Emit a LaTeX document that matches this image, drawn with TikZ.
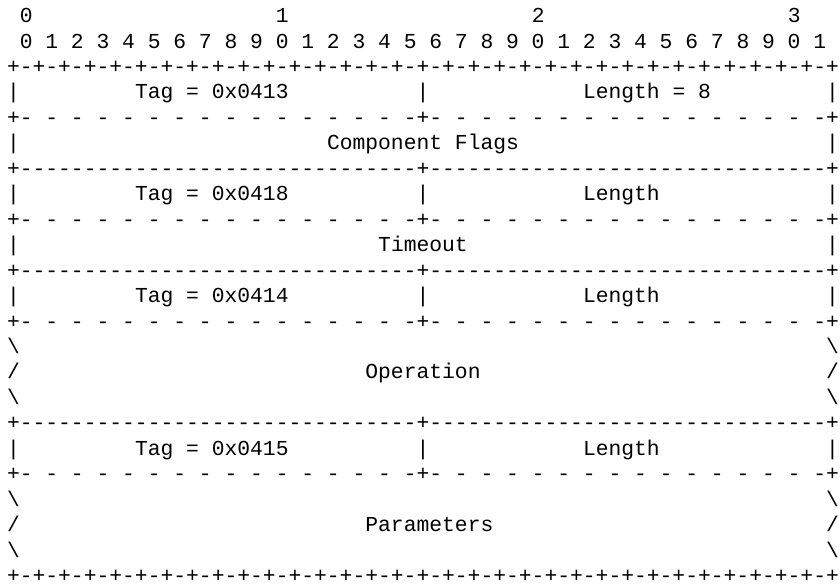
\documentclass[tikz,border=0pt]{standalone}
\usepackage{fontspec}
\newfontfamily\asc{Liberation Mono}[Ligatures=TeXOff]
\newcommand\sk[1]{\hskip#1\fontdimen2\font\relax}
\newcommand\bs{\textbackslash}
\ExplSyntaxOn
\cs_new_eq:NN \rep \prg_replicate:nn
\ExplSyntaxOff
\newcommand\plusrow{+\rep{32}{-+}}
\newcommand\dashrow{+-\rep{15}{\sk{1}-}+-\rep{15}{\sk{1}-}+}
\newcommand\solidrow{+\rep{31}{-}+\rep{31}{-}+}
\newcommand\wallrow{\bs\sk{63}\bs}
\begin{document}
\begin{tikzpicture}[x=1pt,y=1pt,
  ascii/.style={anchor=base west,inner sep=0pt,outer sep=0pt,
    font=\asc\fontsize{21.33pt}{25.5pt}\selectfont}]
\useasboundingbox (0,0) rectangle (840,-586);
\def\lx{7.0}
\node[ascii] (r0)  at (\lx,{-(22.6+25.45*0)})  {\sk{1}0\sk{19}1\sk{19}2\sk{19}3};
\node[ascii] (r1)  at (\lx,{-(22.6+25.45*1)})  {\sk{1}0 1 2 3 4 5 6 7 8 9 0 1 2 3 4 5 6 7 8 9 0 1 2 3 4 5 6 7 8 9 0 1};
\node[ascii] (r2)  at (\lx,{-(22.6+25.45*2)})  {\plusrow};
\node[ascii] (r3)  at (\lx,{-(22.6+25.45*3)})  {|\sk{9}Tag = 0x0413\sk{10}|\sk{12}Length = 8\sk{9}|};
\node[ascii] (r4)  at (\lx,{-(22.6+25.45*4)})  {\dashrow};
\node[ascii] (r5)  at (\lx,{-(22.6+25.45*5)})  {|\sk{24}Component Flags\sk{24}|};
\node[ascii] (r6)  at (\lx,{-(22.6+25.45*6)})  {\solidrow};
\node[ascii] (r7)  at (\lx,{-(22.6+25.45*7)})  {|\sk{9}Tag = 0x0418\sk{10}|\sk{12}Length\sk{13}|};
\node[ascii] (r8)  at (\lx,{-(22.6+25.45*8)})  {\dashrow};
\node[ascii] (r9)  at (\lx,{-(22.6+25.45*9)})  {|\sk{28}Timeout\sk{28}|};
\node[ascii] (r10) at (\lx,{-(22.6+25.45*10)}) {\solidrow};
\node[ascii] (r11) at (\lx,{-(22.6+25.45*11)}) {|\sk{9}Tag = 0x0414\sk{10}|\sk{12}Length\sk{13}|};
\node[ascii] (r12) at (\lx,{-(22.6+25.45*12)}) {\dashrow};
\node[ascii] (r13) at (\lx,{-(22.6+25.45*13)}) {\wallrow};
\node[ascii] (r14) at (\lx,{-(22.6+25.45*14)}) {/\sk{27}Operation\sk{27}/};
\node[ascii] (r15) at (\lx,{-(22.6+25.45*15)}) {\wallrow};
\node[ascii] (r16) at (\lx,{-(22.6+25.45*16)}) {\solidrow};
\node[ascii] (r17) at (\lx,{-(22.6+25.45*17)}) {|\sk{9}Tag = 0x0415\sk{10}|\sk{12}Length\sk{13}|};
\node[ascii] (r18) at (\lx,{-(22.6+25.45*18)}) {\dashrow};
\node[ascii] (r19) at (\lx,{-(22.6+25.45*19)}) {\wallrow};
\node[ascii] (r20) at (\lx,{-(22.6+25.45*20)}) {/\sk{27}Parameters\sk{26}/};
\node[ascii] (r21) at (\lx,{-(22.6+25.45*21)}) {\wallrow};
\node[ascii,text depth=0pt] (r22) at (\lx,{-(22.6+25.45*22)}) {\plusrow};
\end{tikzpicture}
\end{document}
